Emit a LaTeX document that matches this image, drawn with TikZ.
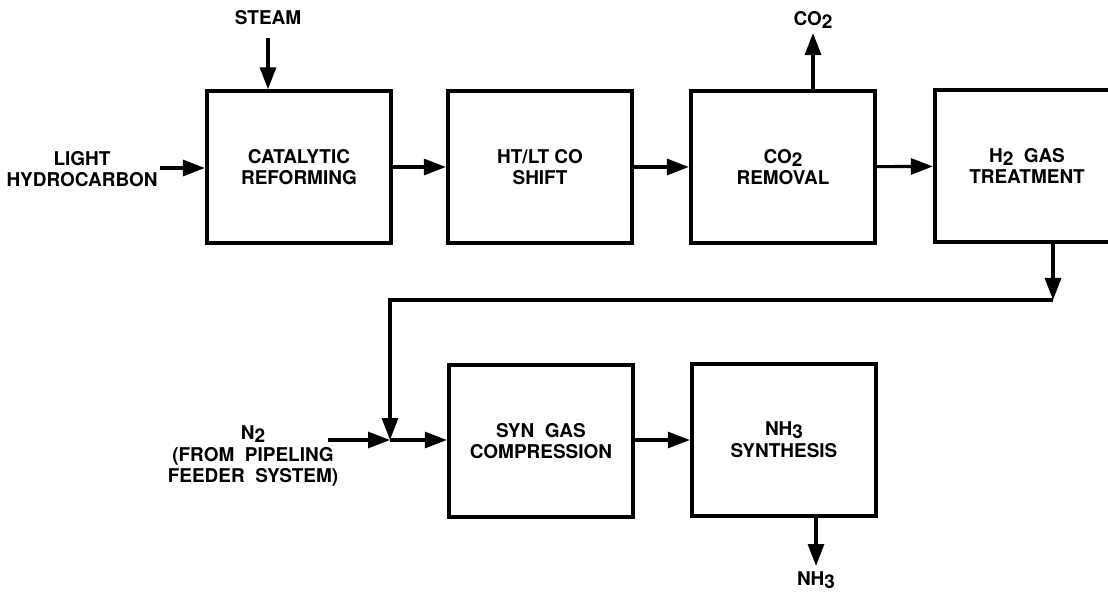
\documentclass[tikz,border=0pt]{standalone}
\usepackage{fontspec}
\setmainfont{TeX Gyre Heros}
\usetikzlibrary{arrows.meta}
\newcommand{\sbs}[1]{\raisebox{-0.3ex}{#1}}

\begin{document}
\begin{tikzpicture}[x=0.025cm,y=-0.025cm,line width=2.2pt,
        >={Triangle[length=5.5mm,width=4mm]},
        font=\fontsize{13.5}{15.5}\selectfont\bfseries]
        \tikzstyle{unit}=[draw,line width=3pt,shape=rectangle,align=center,minimum width=4.6cm,minimum height=3.78cm]
        \tikzstyle{lbl}=[align=center,inner sep=0pt]

        \useasboundingbox (0,0) rectangle (1108,592);

        \node[unit](cr) at (299,167){CATALYTIC\\REFORMING};
        \node[unit](sh) at (540,167){HT/LT CO\\SHIFT};
        \node[unit](rm) at (783,167){CO\sbs{2}\\REMOVAL};
        \node[unit](tr) at (1027,166){H\sbs{2}\ \ GAS\\TREATMENT};
        \node[unit](cp) at (541,441){SYN\ \ GAS\\COMPRESSION};
        \node[unit](sy) at (784,440){NH\sbs{3}\\SYNTHESIS};

        \node[lbl](steam) at (268,18){STEAM};
        \node[lbl](hc) at (82,169){LIGHT\\HYDROCARBON};
        \node[lbl](co2) at (813,20){CO\sbs{2}};
        \node[lbl](n2) at (253,456){N\sbs{2}\\(FROM\ \ PIPELING\\FEEDER\ \ SYSTEM)};
        \node[lbl](nh3) at (816,580){NH\sbs{3}};

        \coordinate (s0) at (268,38);
        \coordinate (h0) at (160,168);
        \coordinate (c0) at (813,33);
        \coordinate (t0) at (1053,300);
        \coordinate (k0) at (390,300);
        \coordinate (j) at (390,440);
        \coordinate (n0) at (328,440);
        \coordinate (a0) at (816,566);

        \draw[->] (s0) -- (s0 |- cr.north);
        \draw[->] (h0) -- (cr.west |- h0);
        \draw[->] (cr) -- (sh);
        \draw[->] (sh) -- (rm);
        \draw[->] (rm) -- (tr);
        \draw[->] (c0 |- rm.north) -- (c0);

        \draw[->] (t0 |- tr.south) -- (t0);
        \draw[->] (t0) -- (k0) -- (j);
        \draw[->] (n0) -- (j);
        \draw[->] (j) -- (cp.west |- j);
        \draw[->] (cp.east |- j) -- (sy.west |- j);
        \draw[->] (a0 |- sy.south) -- (a0);

    \end{tikzpicture}
\end{document}
